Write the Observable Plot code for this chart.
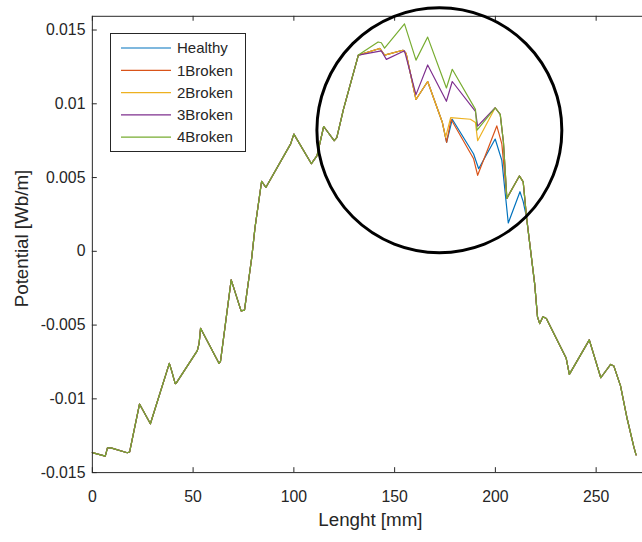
<!DOCTYPE html>
<html><head><meta charset="utf-8">
<script src="https://cdn.jsdelivr.net/npm/d3@7"></script>
<script src="https://cdn.jsdelivr.net/npm/@observablehq/plot@0.6"></script>
<style>
html,body{margin:0;padding:0;background:#fff;overflow:hidden;}
#wrap{position:relative;width:642px;height:542px;overflow:hidden;background:#fff;}
#legend{position:absolute;left:110px;top:33px;}
</style></head><body><div id="wrap"></div>
<script>
// ---- data ----
const seriesNames = ["Healthy", "1Broken", "2Broken", "3Broken", "4Broken"];
const seriesColors = ["#0072BD", "#D95319", "#EDB120", "#7E2F8E", "#77AC30"];

// shared part (all five curves overlap), 0 .. 132 mm
const commonStartX = [0, 6.4, 7.5, 9.2, 17.3, 18.5, 23.4, 28.8, 38.2, 39.4, 41.1, 41.7, 52.1, 53.0, 53.7, 62.9, 63.6, 68.9, 73.8, 75.5, 79.1, 80.7, 84.0, 86.1, 98.4, 100.0, 108.7, 111.5, 114.8, 120.0, 121.3, 124.6, 132.0];
const commonStartY = [-0.01365, -0.01388, -0.01332, -0.01332, -0.01365, -0.0136, -0.01035, -0.01169, -0.0076, -0.00812, -0.00897, -0.00892, -0.00673, -0.00622, -0.00522, -0.0076, -0.00745, -0.00194, -0.00404, -0.00399, -0.00042, 0.00159, 0.00475, 0.00433, 0.00728, 0.00794, 0.00594, 0.00649, 0.00846, 0.0075, 0.00771, 0.00962, 0.0133];

// shared part, 215 .. 270 mm
const commonEndX = [215.5, 217.1, 219.5, 220.9, 222.0, 223.6, 225.3, 235.1, 236.7, 246.6, 252.3, 257.2, 258.8, 262.1, 265.4, 268.7, 269.8];
const commonEndY = [0.00226, 0.00047, -0.00221, -0.00444, -0.0049, -0.00444, -0.00455, -0.00723, -0.00834, -0.006, -0.00857, -0.00767, -0.00778, -0.00912, -0.01135, -0.01325, -0.0138];

// diverging part (inside the circle)
const healthyX = [142.6, 145.0, 154.1, 155.7, 160.6, 166.4, 173.7, 175.8, 178.6, 189.2, 191.7, 199.9, 203.2, 206.4, 212.2, 213.8];
const healthyY = [0.01375, 0.0133, 0.01363, 0.01341, 0.01029, 0.01151, 0.00873, 0.00739, 0.00895, 0.0066, 0.0056, 0.00761, 0.00616, 0.00192, 0.00404, 0.00337];
const broken1X = [142.6, 145.0, 154.1, 155.7, 160.6, 166.4, 173.7, 175.8, 178.0, 189.2, 191.2, 200.7, 203.2, 205.7, 211.9, 213.8];
const broken1Y = [0.01375, 0.0133, 0.01363, 0.01341, 0.01029, 0.01151, 0.00873, 0.00739, 0.00895, 0.00627, 0.00515, 0.0085, 0.00728, 0.00359, 0.00511, 0.00471];
const broken2X = [142.6, 145.0, 154.1, 155.7, 160.6, 166.4, 173.7, 175.3, 177.8, 187.6, 190.1, 191.2, 199.9, 202.4, 204.0, 205.7, 211.9, 213.8];
const broken2Y = [0.01375, 0.0133, 0.01363, 0.01341, 0.01029, 0.01151, 0.00873, 0.00772, 0.00906, 0.00895, 0.00873, 0.0075, 0.00973, 0.00928, 0.00739, 0.00359, 0.00511, 0.00471];
const broken3X = [143.4, 145.9, 154.9, 160.6, 166.4, 175.7, 178.6, 190.1, 191.2, 199.9, 202.4, 204.0, 205.7, 211.9, 213.8];
const broken3Y = [0.01359, 0.01301, 0.01359, 0.01062, 0.01263, 0.01017, 0.01151, 0.00948, 0.00848, 0.00973, 0.00928, 0.00739, 0.00359, 0.00511, 0.00471];
const broken4X = [141.8, 143.4, 145.0, 154.9, 160.6, 166.4, 175.7, 178.6, 190.1, 190.9, 199.9, 202.4, 204.0, 205.7, 211.9, 213.8];
const broken4Y = [0.01419, 0.01414, 0.01377, 0.01542, 0.01296, 0.01452, 0.01107, 0.01234, 0.00962, 0.00821, 0.00973, 0.00928, 0.00739, 0.00359, 0.00511, 0.00471];

const xTicks = [0, 50, 100, 150, 200, 250];
const yTicks = [-0.015, -0.01, -0.005, 0, 0.005, 0.01, 0.015];
const xLabel = "Lenght [mm]";
const yLabel = "Potential [Wb/m]";
// highlight circle centre (data units)
const circleCenter = [{x: 172.2, y: 0.00821}];

// ---- build table ----
const midX = [healthyX, broken1X, broken2X, broken3X, broken4X];
const midY = [healthyY, broken1Y, broken2Y, broken3Y, broken4Y];
const rows = [];
seriesNames.forEach((name, i) => {
  const xs = [...commonStartX, ...midX[i], ...commonEndX];
  const ys = [...commonStartY, ...midY[i], ...commonEndY];
  xs.forEach((x, j) => rows.push({series: name, x, y: ys[j]}));
});

const axisColor = "#262626";
const W = 650, H = 542, ML = 93, MT = 16, MB = 64;
const chart = Plot.plot({
  width: W, height: H,
  marginLeft: ML, marginRight: 0, marginTop: MT, marginBottom: MB,
  style: {fontFamily: "'Liberation Sans', Arial, sans-serif", fontSize: "16px", color: axisColor, background: "white", overflow: "visible"},
  x: {domain: [0, 273]},
  y: {domain: [-0.015, 0.01593]},
  color: {domain: seriesNames, range: seriesColors},
  marks: [
    Plot.axisX({ticks: xTicks, tickSize: 0, tickPadding: 18, label: null, tickFormat: d => String(d)}),
    Plot.axisY({ticks: yTicks, tickSize: 0, tickPadding: 7, label: null, tickFormat: d => String(d)}),
    Plot.tickX(xTicks, {x: d => d, stroke: axisColor, insetTop: H - MT - MB - 5}),
    Plot.tickX(xTicks, {x: d => d, stroke: axisColor, insetBottom: H - MT - MB - 5}),
    Plot.tickY(yTicks, {y: d => d, stroke: axisColor, insetRight: W - ML - 5}),
    Plot.line(rows, {x: "x", y: "y", z: "series", stroke: "series", strokeWidth: 1.2}),
    Plot.frame({stroke: axisColor, strokeWidth: 1}),
    Plot.dot(circleCenter, {x: "x", y: "y", r: 124, stroke: "black", strokeWidth: 3, fill: "none"}),
    Plot.text([xLabel], {frameAnchor: "bottom", lineAnchor: "middle", textAnchor: "middle", dx: 3, dy: 48, fontSize: 19, fill: axisColor}),
    Plot.text([yLabel], {frameAnchor: "left", lineAnchor: "middle", textAnchor: "middle", dx: -71, dy: -6, rotate: -90, fontSize: 19, fill: axisColor})
  ]
});
const wrap = document.getElementById("wrap");
wrap.appendChild(chart);

// ---- legend (inside the axes, top-left) ----
const ns = "http://www.w3.org/2000/svg";
const lg = document.createElementNS(ns, "svg");
lg.setAttribute("id", "legend");
lg.setAttribute("width", 136);
lg.setAttribute("height", 119);
lg.style.fontFamily = "'Liberation Sans', Arial, sans-serif";
const box = document.createElementNS(ns, "rect");
box.setAttribute("x", 0.5); box.setAttribute("y", 0.5);
box.setAttribute("width", 135); box.setAttribute("height", 118);
box.setAttribute("fill", "white"); box.setAttribute("stroke", axisColor);
lg.appendChild(box);
seriesNames.forEach((name, i) => {
  const cy = 15 + i * 22.3;
  const ln = document.createElementNS(ns, "line");
  ln.setAttribute("x1", 11); ln.setAttribute("x2", 61);
  ln.setAttribute("y1", cy); ln.setAttribute("y2", cy);
  ln.setAttribute("stroke", seriesColors[i]); ln.setAttribute("stroke-width", 1.2);
  lg.appendChild(ln);
  const t = document.createElementNS(ns, "text");
  t.setAttribute("x", 67); t.setAttribute("y", cy);
  t.setAttribute("dy", "0.35em");
  t.setAttribute("font-size", "15px");
  t.setAttribute("fill", axisColor);
  t.textContent = name;
  lg.appendChild(t);
});
wrap.appendChild(lg);
</script>
</body></html>
